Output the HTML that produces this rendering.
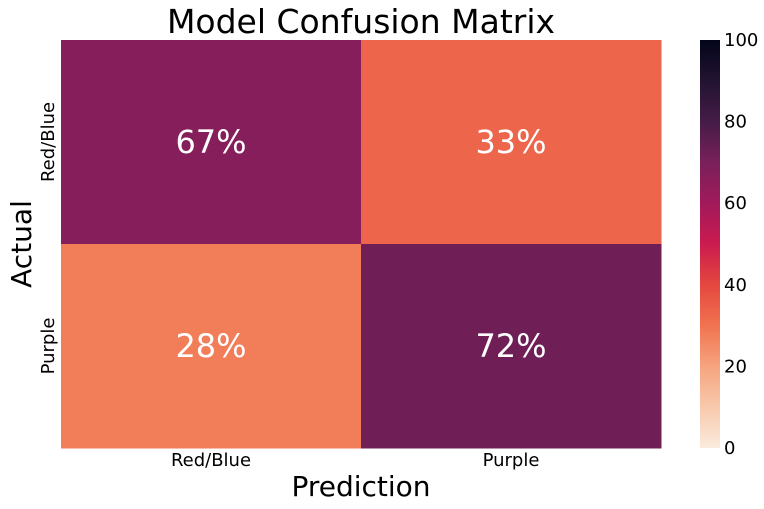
<!DOCTYPE html>
<html><head><meta charset="utf-8"><style>
html,body{margin:0;padding:0;background:#fff;width:764px;height:509px;overflow:hidden}
svg text{font-family:"DejaVu Sans","Liberation Sans",sans-serif}
</style></head><body>
<svg id="chart" width="764" height="509" xmlns="http://www.w3.org/2000/svg">
<defs><linearGradient id="cbgrad" x1="0" y1="0" x2="0" y2="1"></linearGradient></defs>
<text x="361" y="33" font-size="33" text-anchor="middle" fill="#000">Model Confusion Matrix</text>
<text x="361" y="496" font-size="28" text-anchor="middle" fill="#000">Prediction</text>
<text transform="translate(31,244) rotate(-90)" font-size="28" text-anchor="middle" fill="#000">Actual</text>
<g id="cells"></g>
<g id="xticks"></g>
<g id="yticks"></g>
<rect x="700" y="40" width="20" height="408" fill="url(#cbgrad)"/>
<g id="cbticks"></g>
</svg>
<script>
const actualLabels = ["Red/Blue","Purple"];
const predictedLabels = ["Red/Blue","Purple"];
const row0 = [67,33];
const row1 = [28,72];
const cbTicks = [0,20,40,60,80,100];
const values = [row0,row1];
const NS="http://www.w3.org/2000/svg";
const X0=61,X1=661,Y0=40,Y1=448,VMIN=0,VMAX=100;
const stops=[[0,"#03051a"],[0.1,"#221331"],[0.2,"#451c47"],[0.3,"#79205a"],[0.4,"#a11a5b"],[0.5,"#cb1b4f"],[0.6,"#e4473f"],[0.7,"#f17350"],[0.8,"#f6a47f"],[0.9,"#f7c9ac"],[1,"#faebdd"]];
function hex(h){return [1,3,5].map(i=>parseInt(h.substr(i,2),16));}
function rocketR(v){let t=1-(v-VMIN)/(VMAX-VMIN);t=Math.max(0,Math.min(1,t));
 for(let i=1;i<stops.length;i++){if(t<=stops[i][0]){const a=stops[i-1],b=stops[i];const f=(t-a[0])/(b[0]-a[0]);const ca=hex(a[1]),cb=hex(b[1]);return "rgb("+ca.map((c,k)=>Math.round(c+(cb[k]-c)*f)).join(",")+")";}}return stops[stops.length-1][1];}
const nC=predictedLabels.length,nR=actualLabels.length;
const cw=(X1-X0)/nC,ch=(Y1-Y0)/nR;
const xs=j=>X0+j*cw, ys=i=>Y0+i*ch;
const cbY=v=>Y1-(v-VMIN)/(VMAX-VMIN)*(Y1-Y0);
function el(t,a,p){const e=document.createElementNS(NS,t);for(const k in a)e.setAttribute(k,a[k]);p.appendChild(e);return e;}
const cells=document.getElementById("cells");
values.forEach((row,i)=>row.forEach((v,j)=>{
 const r=el("rect",{x:xs(j),y:ys(i),width:cw+0.5,height:ch+0.5,fill:rocketR(v)},cells);
 
 
 const t=el("text",{x:xs(j)+cw/2,y:ys(i)+ch/2+11,"font-size":32,"text-anchor":"middle",fill:"#fff"},cells);
 t.textContent=v+"%";
 
 
}));
const xt=document.getElementById("xticks");
predictedLabels.forEach((l,j)=>{const t=el("text",{x:xs(j)+cw/2,y:466,"font-size":18,"text-anchor":"middle",fill:"#000"},xt);t.textContent=l;
 
 });
const yt=document.getElementById("yticks");
actualLabels.forEach((l,i)=>{const y=ys(i)+ch/2;const t=el("text",{transform:"translate(54,"+y+") rotate(-90)","font-size":18,"text-anchor":"middle",fill:"#000"},yt);t.textContent=l;
 
 });
const g=document.getElementById("cbgrad");
stops.forEach(s=>el("stop",{offset:s[0],"stop-color":s[1]},g));
const cbt=document.getElementById("cbticks");
cbTicks.forEach(v=>{const t=el("text",{x:724,y:cbY(v)+6,"font-size":18,fill:"#000"},cbt);t.textContent=v;
 
 });
</script>
</body></html>
